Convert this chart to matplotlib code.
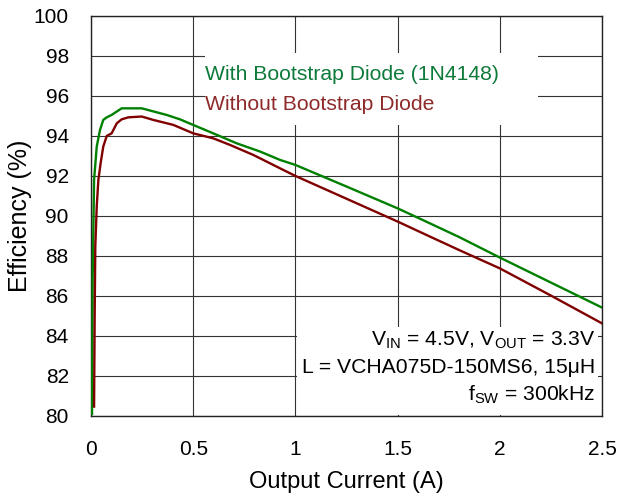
import matplotlib
matplotlib.use("Agg")
from matplotlib import pyplot as plt
from matplotlib.patches import Rectangle

plt.rcParams['font.family'] = ['Liberation Sans', 'DejaVu Sans']
plt.rcParams['mathtext.fontset'] = 'custom'
plt.rcParams['mathtext.rm'] = 'Liberation Sans'

# efficiency with bootstrap diode (1N4148)
with_x = [0.005, 0.008, 0.011, 0.015, 0.028, 0.044, 0.060, 0.077, 0.101, 0.126,
          0.150, 0.248, 0.370, 0.435, 0.5, 0.598, 0.713, 0.827, 0.925, 1.0,
          1.25, 1.5, 1.658, 1.8, 2.0, 2.25, 2.5]
with_eff = [80.1, 86.8, 88.97, 91.8, 93.47, 94.3, 94.8, 94.93, 95.05, 95.22,
            95.38, 95.38, 95.05, 94.83, 94.55, 94.13, 93.63, 93.22, 92.8, 92.55,
            91.47, 90.38, 89.63, 88.95, 87.92, 86.67, 85.42]

# efficiency without bootstrap diode
without_x = [0.015, 0.018, 0.021, 0.028, 0.036, 0.047, 0.060, 0.077, 0.101, 0.126,
             0.150, 0.183, 0.248, 0.305, 0.403, 0.5, 0.598, 0.680, 0.794, 0.925,
             1.0, 1.25, 1.5, 1.658, 1.8, 2.0, 2.25, 2.5]
without_eff = [80.47, 85.1, 88.47, 90.47, 91.8, 92.63, 93.47, 94.0, 94.13, 94.63,
               94.83, 94.93, 94.97, 94.8, 94.55, 94.13, 93.88, 93.55, 93.05, 92.38,
               92.0, 90.86, 89.72, 88.97, 88.3, 87.38, 86.02, 84.63]

x_ticks = [0, 0.5, 1, 1.5, 2, 2.5]
x_labels = ['0', '0.5', '1', '1.5', '2', '2.5']
y_ticks = list(range(80, 101, 2))

fig = plt.figure(figsize=(6.17, 4.97), dpi=100)
ax = fig.add_axes([0.1475, 0.163, 0.8282, 0.805])

ax.plot(with_x, with_eff, color='#008000', lw=1.7, zorder=3)
ax.plot(without_x, without_eff, color='#800000', lw=1.7, zorder=3)

ax.set_xlim(0, 2.5)
ax.set_ylim(80, 100)
ax.set_xticks(x_ticks)
ax.set_xticklabels(x_labels)
ax.set_yticks(y_ticks)
ax.tick_params(length=0, labelsize=15)
ax.tick_params(axis='y', pad=16)
ax.tick_params(axis='x', pad=17)
ax.set_axisbelow(True)
ax.grid(True, color='#333333', lw=0.8)
for s in ax.spines.values():
    s.set_linewidth(1.0)
    s.set_color('#222222')

ax.set_xlabel('Output Current (A)', fontsize=17, labelpad=9)
ax.set_ylabel('Efficiency (%)', fontsize=18, labelpad=1)

# white boxes behind the texts
ax.add_patch(Rectangle((0.558, 94.55), 1.629, 3.6, facecolor='white',
                       edgecolor='none', zorder=1.5))
ax.add_patch(Rectangle((1.008, 80.05), 1.472, 4.4, facecolor='white',
                       edgecolor='none', zorder=1.5))

ax.text(0.558, 96.8, 'With Bootstrap Diode (1N4148)', color='#0E7A3A',
        fontsize=15.2, va='baseline', ha='left', zorder=4)
ax.text(0.558, 95.3, 'Without Bootstrap Diode', color='#8E2A2A',
        fontsize=15.2, va='baseline', ha='left', zorder=4)

ax.text(2.466, 83.55, r'V$_{\mathrm{IN}}$ = 4.5V, V$_{\mathrm{OUT}}$ = 3.3V',
        fontsize=15.2, va='baseline', ha='right', zorder=4)
ax.text(2.466, 82.15, 'L = VCHA075D-150MS6, 15\u03bcH',
        fontsize=15.2, va='baseline', ha='right', zorder=4)
ax.text(2.466, 80.8, r'f$_{\mathrm{SW}}$ = 300kHz',
        fontsize=15.2, va='baseline', ha='right', zorder=4)

fig.savefig('out.png', dpi=100)
